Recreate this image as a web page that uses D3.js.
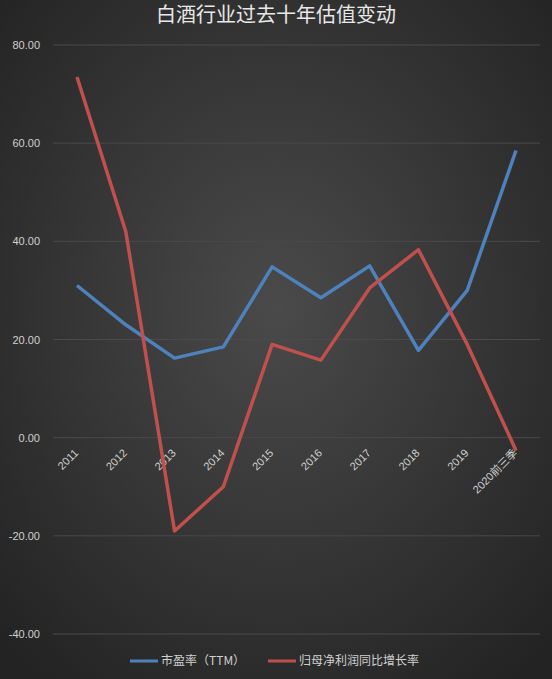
<!DOCTYPE html>
<html><head><meta charset="utf-8">
<script src="https://cdn.jsdelivr.net/npm/d3@7"></script>
<style>body{margin:0;background:#333}</style>
</head><body><svg id="c"></svg>
<script>
const years = ['2011','2012','2013','2014','2015','2016','2017','2018','2019','2020前三季'];
const pe = [31, 23, 16.2, 18.5, 34.8, 28.5, 35, 17.8, 30, 58.5];
const growth = [73.5, 42, -19, -10, 19, 15.8, 30.5, 38.3, 19, -2.6];
const yTicks = [-40, -20, 0, 20, 40, 60, 80];

const W = 552, H = 679;
const svg = d3.select('#c').attr('width', W).attr('height', H);
const defs = svg.append('defs');
const g = defs.append('radialGradient').attr('id', 'bg').attr('cx', '50%').attr('cy', '45%').attr('r', '70%');
g.append('stop').attr('offset', '0%').attr('stop-color', '#4a4a4a');
g.append('stop').attr('offset', '100%').attr('stop-color', '#232323');
svg.append('rect').attr('width', W).attr('height', H).attr('fill', 'url(#bg)');

svg.append('text').attr('x', W / 2).attr('y', 22).attr('text-anchor', 'middle')
  .attr('fill', '#e8e8e8').attr('font-size', 20).attr('font-family', 'Noto Sans CJK SC')
  .text('白酒行业过去十年估值变动');

const x = d3.scalePoint().domain(years).range([77, 516]);
const y = d3.scaleLinear().domain([-40, 80]).range([634, 45]);

svg.append('g').selectAll('line').data(yTicks).join('line')
  .attr('x1', 53).attr('x2', 540).attr('y1', d => y(d)).attr('y2', d => y(d))
  .attr('stroke', '#4a4a4a').attr('stroke-width', 1);
svg.append('g').selectAll('text').data(yTicks).join('text')
  .attr('x', 40).attr('y', d => y(d) + 4).attr('text-anchor', 'end')
  .attr('fill', '#d0d0d0').attr('font-size', 11).attr('font-family', 'Liberation Sans')
  .text(d => d.toFixed(2));

svg.append('g').selectAll('text').data(years).join('text')
  .attr('transform', d => `translate(${x(d) + 2},${y(0) + 16}) rotate(-45)`)
  .attr('text-anchor', 'end').attr('fill', '#d0d0d0').attr('font-size', 11)
  .attr('font-family', 'Liberation Sans, Noto Sans CJK SC')
  .text(d => d);

const line = d3.line().x((d, i) => x(years[i])).y(d => y(d));
svg.append('path').datum(pe).attr('d', line).attr('fill', 'none')
  .attr('stroke', '#4f81bd').attr('stroke-width', 3.5).attr('stroke-linejoin', 'round');
svg.append('path').datum(growth).attr('d', line).attr('fill', 'none')
  .attr('stroke', '#c0504d').attr('stroke-width', 3.5).attr('stroke-linejoin', 'round');

const legend = [['市盈率（TTM）', '#4f81bd', 130], ['归母净利润同比增长率', '#c0504d', 268]];
legend.forEach(([t, c, lx]) => {
  svg.append('line').attr('x1', lx).attr('x2', lx + 28).attr('y1', 661).attr('y2', 661)
    .attr('stroke', c).attr('stroke-width', 3);
  svg.append('text').attr('x', lx + 31).attr('y', 665).attr('fill', '#d0d0d0')
    .attr('font-size', 12).attr('font-family', 'Noto Sans CJK SC').text(t);
});
</script></body></html>
